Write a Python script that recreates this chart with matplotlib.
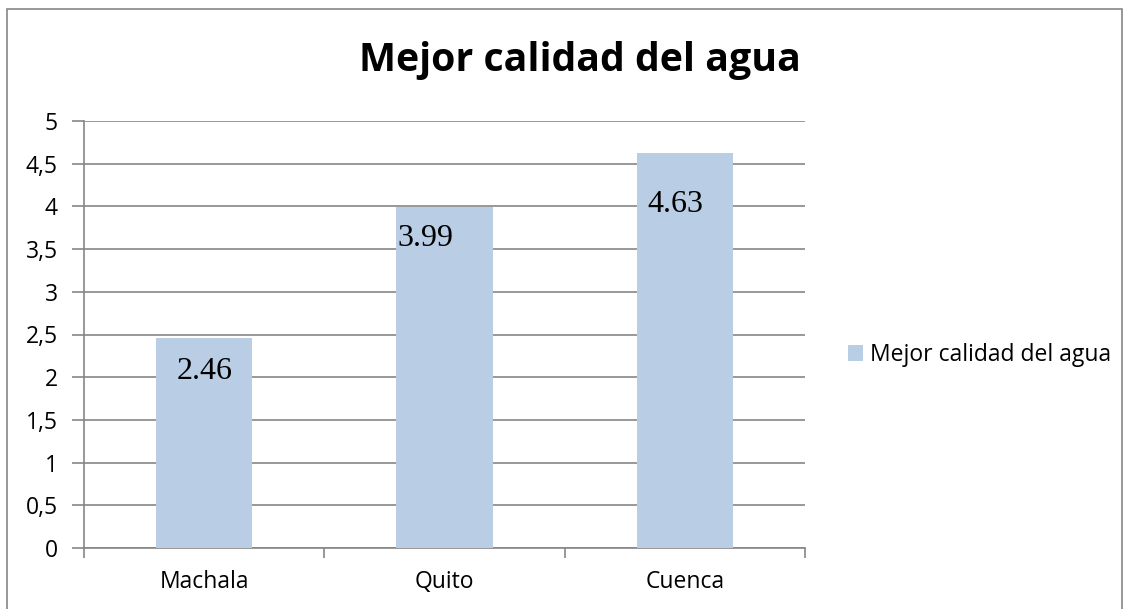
import matplotlib
matplotlib.use("Agg")
import matplotlib.pyplot as plt
from matplotlib.patches import Rectangle
from matplotlib.ticker import FuncFormatter, FixedLocator

# datos del grafico
ciudades = ["Machala", "Quito", "Cuenca"]
valores = [2.46, 3.99, 4.63]
serie = "Mejor calidad del agua"
yticks = [0, 0.5, 1, 1.5, 2, 2.5, 3, 3.5, 4, 4.5, 5]

# pequeños desplazamientos de las etiquetas (en pixeles), como en el original
label_dx = [0, -19, -9]
label_dy = [-34, -31, -52]

W, H = 1131, 609
fig = plt.figure(figsize=(W / 100, H / 100), dpi=100)
fig.patch.set_facecolor("white")

# borde del grafico
fig.patches.append(Rectangle((7 / W, -0.05), (1122 - 7) / W, (H - 9) / H + 0.05,
                             transform=fig.transFigure, fill=False,
                             edgecolor="#868686", linewidth=1.2))

ax = fig.add_axes([84 / W, (H - 548) / H, (805 - 84) / W, (548 - 121) / H])
gris = "#868686"
sans = "Open Sans"

x = list(range(len(ciudades)))
barras = ax.bar(x, valores, width=0.4, color="#B9CDE5", label=serie, zorder=3)

ax.set_xlim(-0.5, len(ciudades) - 0.5)
ax.set_ylim(0, 5)
ax.set_yticks(yticks)
ax.yaxis.set_major_formatter(FuncFormatter(lambda v, p: ("%g" % v).replace(".", ",")))
ax.grid(axis="y", color=gris, linewidth=1.2, zorder=0)

ax.set_xticks(x)
ax.set_xticklabels(ciudades)
ax.xaxis.set_minor_locator(FixedLocator([i - 0.5 for i in range(len(ciudades) + 1)]))
ax.tick_params(axis="x", which="major", length=0, pad=16, labelsize=16.5)
ax.tick_params(axis="x", which="minor", length=7, color=gris, width=1.2)
ax.tick_params(axis="y", length=9, color=gris, width=1.2, labelsize=16.5, pad=10)
for lab in ax.get_xticklabels() + ax.get_yticklabels():
    lab.set_fontfamily(sans)

for s in ["top", "right"]:
    ax.spines[s].set_visible(False)
for s in ["left", "bottom"]:
    ax.spines[s].set_color(gris)
    ax.spines[s].set_linewidth(1.2)

for i, b in enumerate(barras):
    ax.annotate("%.2f" % valores[i], (b.get_x() + b.get_width() / 2, valores[i]),
                xytext=(label_dx[i] * 0.72, label_dy[i] * 0.72), textcoords="offset points",
                ha="center", va="center", fontsize=23, family="Liberation Serif", zorder=4)

fig.text(580 / W, 1 - 60 / H, serie, ha="center", va="center",
         fontsize=28.3, fontweight="bold", family=sans)

fig.legend(handles=[barras], labels=[serie], loc="center left",
           bbox_to_anchor=(848 / W, 1 - 355 / H), frameon=False,
           prop={"family": sans, "size": 16.5}, handlelength=0.65, handleheight=0.65,
           handletextpad=0.3, borderpad=0, borderaxespad=0)

fig.savefig("out.png", dpi=100)
